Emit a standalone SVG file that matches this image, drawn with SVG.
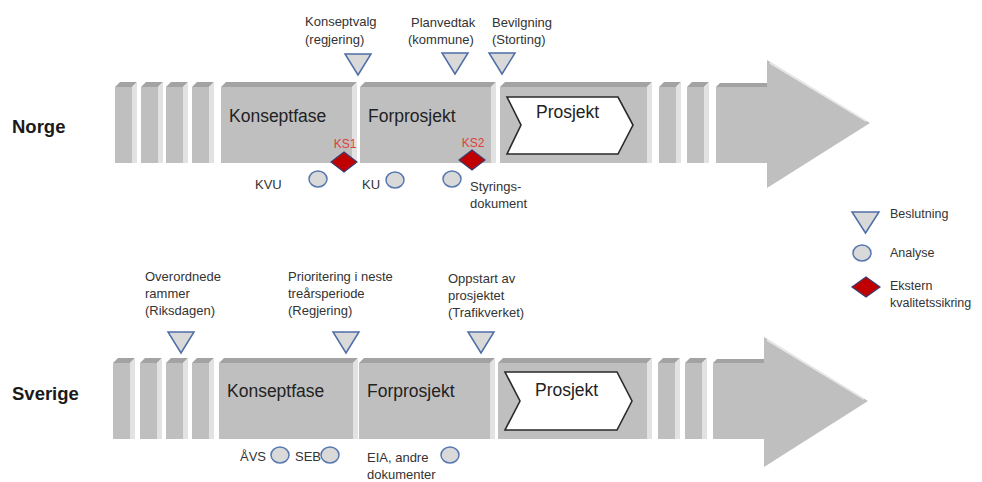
<svg xmlns="http://www.w3.org/2000/svg" width="982" height="482" viewBox="0 0 982 482">
<style>
.front{fill:#bfbfbf}
.top{fill:#a3a3a3}
.side{fill:#e2e2e2}
.tri{fill:#d9d9d9;stroke:#4e6ea6;stroke-width:1.5}
.circ{fill:#d9d9d9;stroke:#5878b0;stroke-width:1.5}
.dia{fill:#c00000;stroke:#3b3d6e;stroke-width:1.2}
.chev{fill:#ffffff;stroke:#2a2a2a;stroke-width:1.6}
.lbl{font-family:"Liberation Sans",Arial,sans-serif;font-size:13px;fill:#333333}
.leg{font-family:"Liberation Sans",Arial,sans-serif;font-size:12.5px;fill:#333333}
.big{font-family:"Liberation Sans",Arial,sans-serif;font-size:17.5px;fill:#222222}
.ctry{font-family:"Liberation Sans",Arial,sans-serif;font-size:18.5px;font-weight:bold;fill:#1a1a1a}
.ks{font-family:"Liberation Sans",Arial,sans-serif;font-size:12px;fill:#e0403a;text-anchor:middle}
.hl{stroke:#e8e8e8;stroke-width:1.5;fill:none}
</style>
<defs>
<g id="slab">
<polygon class="top" points="0,5 5,0 22,0 17,5"/>
<rect class="front" x="0" y="5" width="17" height="76"/>
<polygon class="side" points="17,5 22,0 22,81 17,81"/>
</g>
<polygon id="tri" class="tri" points="-13,0 13,0 0,21"/>
<ellipse id="circ" class="circ" cx="0" cy="0" rx="9" ry="8"/>
<polygon id="dia" class="dia" points="0,-10 13,0 0,10 -13,0"/>
</defs>

<!-- Norge row -->
<g id="norge">
<text class="ctry" x="12" y="133">Norge</text>
<g id="n-slabs">
<use href="#slab" x="115" y="82"/>
<use href="#slab" x="141" y="82"/>
<use href="#slab" x="166" y="82"/>
<use href="#slab" x="192" y="82"/>
<use href="#slab" x="659" y="82"/>
<use href="#slab" x="687" y="82"/>
</g>
<g id="n-konseptfase">
<polygon class="top" points="221,87 226,82 357,82 352,87"/>
<rect class="front" x="221" y="87" width="131" height="76"/>
<polygon class="side" points="352,87 357,82 357,163 352,163"/>
<text class="big" x="229" y="122">Konseptfase</text>
</g>
<g id="n-forprosjekt">
<polygon class="top" points="360,87 365,82 496,82 491,87"/>
<rect class="front" x="360" y="87" width="131" height="76"/>
<polygon class="side" points="491,87 496,82 496,163 491,163"/>
<text class="big" x="368" y="122">Forprosjekt</text>
</g>
<g id="n-prosjekt">
<polygon class="top" points="500,87 505,82 652,82 647,87"/>
<rect class="front" x="500" y="87" width="147" height="76"/>
<polygon class="side" points="647,87 652,82 652,163 647,163"/>
<polygon class="chev" points="507,97 618,97 633,125 618,154 507,154 521,125"/>
<text class="big" x="536" y="118">Prosjekt</text>
</g>
<g id="n-arrow">
<polygon class="top" points="716,87 720,83 767,83 767,87"/>
<rect class="front" x="716" y="87" width="52" height="76"/>
<polygon class="front" points="767,60 870,123 767,188"/>
<line class="hl" x1="770" y1="63" x2="866" y2="121"/>
</g>
<g id="n-konseptvalg">
<use href="#tri" x="358" y="54"/>
<text class="lbl" x="305" y="26">Konseptvalg</text>
<text class="lbl" x="305" y="44">(regjering)</text>
</g>
<g id="n-planvedtak">
<use href="#tri" x="455" y="53"/>
<text class="lbl" x="411" y="27">Planvedtak</text>
<text class="lbl" x="408" y="44">(kommune)</text>
</g>
<g id="n-bevilgning">
<use href="#tri" x="502" y="53"/>
<text class="lbl" x="492" y="27">Bevilgning</text>
<text class="lbl" x="492" y="44">(Storting)</text>
</g>
<g id="n-ks1">
<use href="#dia" x="344" y="162"/>
<text class="ks" x="345" y="148">KS1</text>
</g>
<g id="n-ks2">
<use href="#dia" x="472" y="160"/>
<text class="ks" x="473" y="147">KS2</text>
</g>
<g id="n-kvu">
<use href="#circ" x="318" y="179"/>
<text class="lbl" x="255" y="189">KVU</text>
</g>
<g id="n-ku">
<use href="#circ" x="395" y="180"/>
<text class="lbl" x="362" y="189">KU</text>
</g>
<g id="n-styrings">
<use href="#circ" x="452" y="179"/>
<text class="lbl" x="470" y="191">Styrings-</text>
<text class="lbl" x="470" y="208">dokument</text>
</g>
</g>

<!-- Sverige row -->
<g id="sverige">
<text class="ctry" x="12" y="400">Sverige</text>
<g id="s-slabs">
<use href="#slab" x="113" y="358"/>
<use href="#slab" x="140" y="358"/>
<use href="#slab" x="166" y="358"/>
<use href="#slab" x="192" y="358"/>
<use href="#slab" x="658" y="358"/>
<use href="#slab" x="685" y="358"/>
</g>
<g id="s-konseptfase">
<polygon class="top" points="219,363 224,358 358,358 353,363"/>
<rect class="front" x="219" y="363" width="134" height="76"/>
<polygon class="side" points="353,363 358,358 358,439 353,439"/>
<text class="big" x="227" y="397">Konseptfase</text>
</g>
<g id="s-forprosjekt">
<polygon class="top" points="359,363 364,358 495,358 490,363"/>
<rect class="front" x="359" y="363" width="131" height="76"/>
<polygon class="side" points="490,363 495,358 495,439 490,439"/>
<text class="big" x="367" y="397">Forprosjekt</text>
</g>
<g id="s-prosjekt">
<polygon class="top" points="498,363 503,358 652,358 647,363"/>
<rect class="front" x="498" y="363" width="149" height="76"/>
<polygon class="side" points="647,363 652,358 652,439 647,439"/>
<polygon class="chev" points="505,372 617,372 632,401 617,430 505,430 520,401"/>
<text class="big" x="535" y="396">Prosjekt</text>
</g>
<g id="s-arrow">
<polygon class="top" points="713,363 717,359 764,359 764,363"/>
<rect class="front" x="713" y="363" width="52" height="76"/>
<polygon class="front" points="764,337 868,401 764,467"/>
<line class="hl" x1="767" y1="340" x2="864" y2="399"/>
</g>
<g id="s-overordnede">
<use href="#tri" x="181" y="332"/>
<text class="lbl" x="145" y="281">Overordnede</text>
<text class="lbl" x="145" y="298">rammer</text>
<text class="lbl" x="145" y="315">(Riksdagen)</text>
</g>
<g id="s-prioritering">
<use href="#tri" x="346" y="332"/>
<text class="lbl" x="288" y="281">Prioritering  i neste</text>
<text class="lbl" x="288" y="298">treårsperiode</text>
<text class="lbl" x="288" y="315">(Regjering)</text>
</g>
<g id="s-oppstart">
<use href="#tri" x="481" y="332"/>
<text class="lbl" x="448" y="283">Oppstart av</text>
<text class="lbl" x="448" y="300">prosjektet</text>
<text class="lbl" x="448" y="317">(Trafikverket)</text>
</g>
<g id="s-avs">
<use href="#circ" x="280" y="455"/>
<text class="lbl" x="240" y="461">ÅVS</text>
</g>
<g id="s-seb">
<use href="#circ" x="330" y="455"/>
<text class="lbl" x="295" y="461">SEB</text>
</g>
<g id="s-eia">
<use href="#circ" x="450" y="455"/>
<text class="lbl" x="367" y="462">EIA, andre</text>
<text class="lbl" x="367" y="479">dokumenter</text>
</g>
</g>

<!-- Legend -->
<g id="legend">
<g id="leg-beslutning">
<polygon class="tri" points="852,212 879,212 865.5,233"/>
<text class="leg" x="890" y="218">Beslutning</text>
</g>
<g id="leg-analyse">
<use href="#circ" x="862" y="253"/>
<text class="leg" x="890" y="257">Analyse</text>
</g>
<g id="leg-ekstern">
<polygon class="dia" points="866,277 880,287 866,297 852,287"/>
<text class="leg" x="890" y="290">Ekstern</text>
<text class="leg" x="890" y="307">kvalitetssikring</text>
</g>
</g>
</svg>
